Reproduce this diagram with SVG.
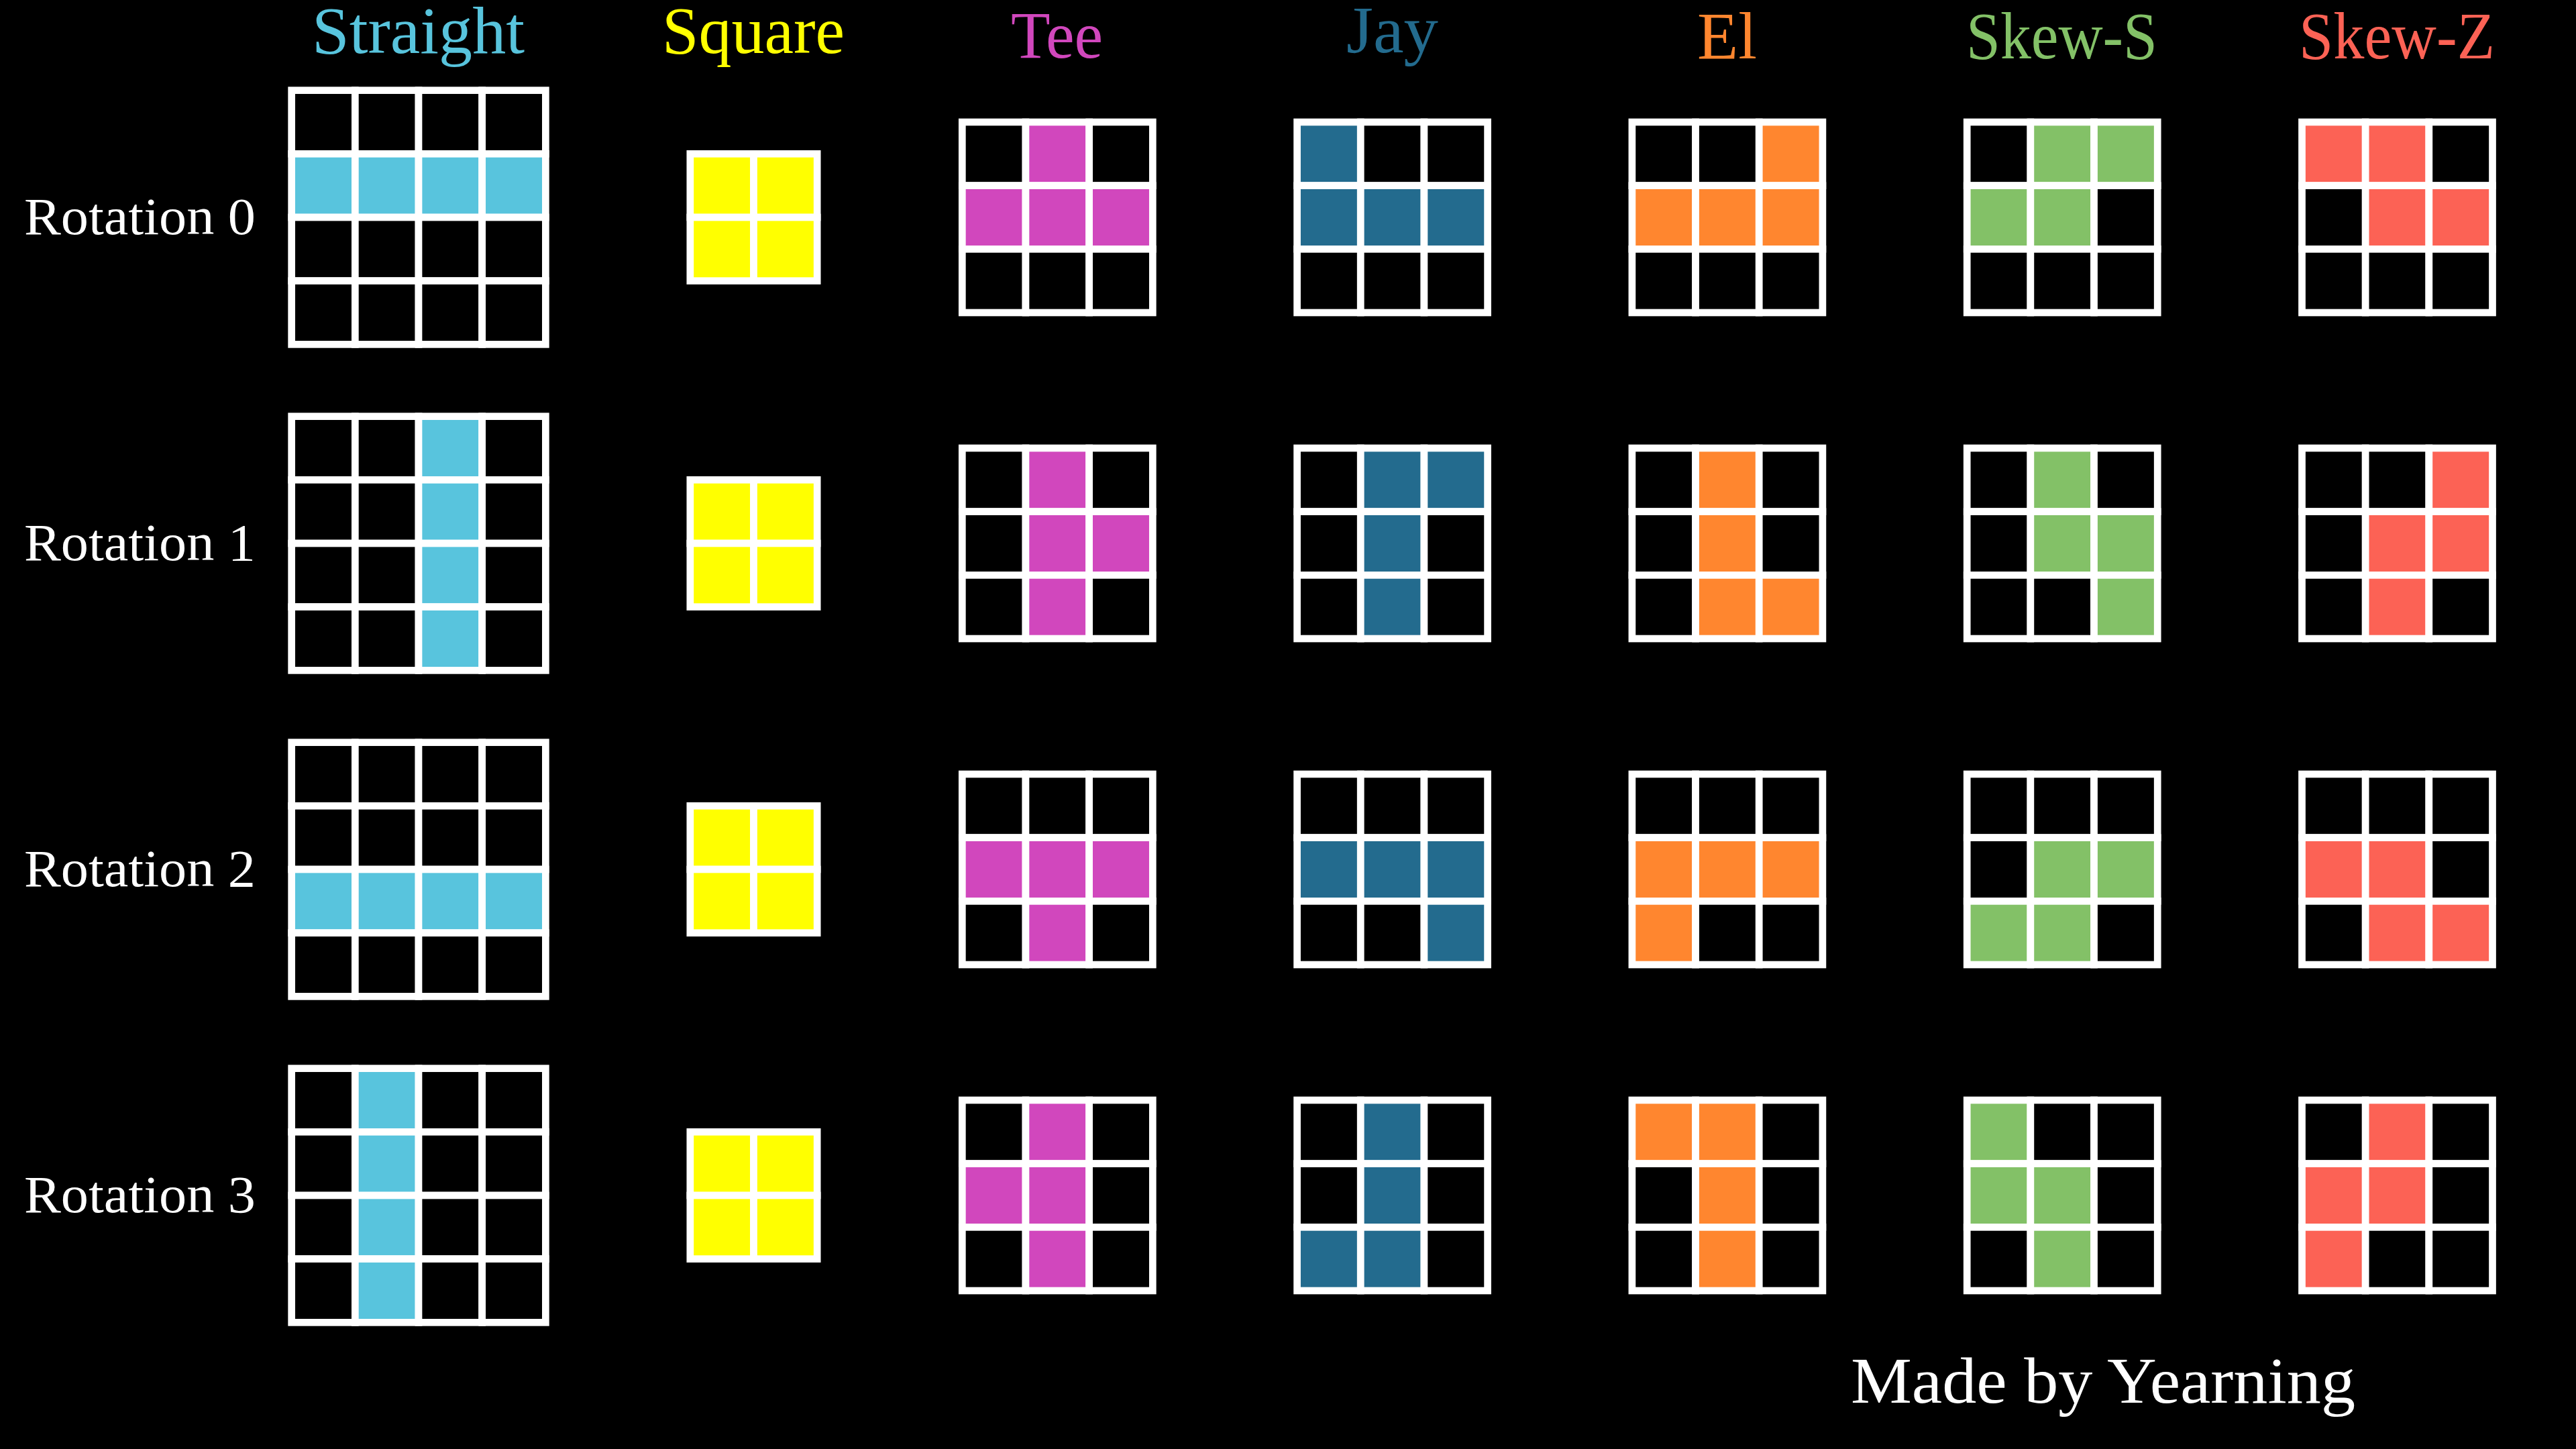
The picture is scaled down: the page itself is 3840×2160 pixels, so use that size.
<svg xmlns="http://www.w3.org/2000/svg" xmlns:xlink="http://www.w3.org/1999/xlink" width="3840" height="2160" viewBox="0 0 3840 2160">
<style>
.bg{fill:#000}
.grid use{fill:#000;stroke:#fff;stroke-width:0.113}
.I use.f{fill:#58C4DD}
.O use.f{fill:#FFFF00}
.T use.f{fill:#D147BD}
.J use.f{fill:#236B8E}
.L use.f{fill:#FF862F}
.S use.f{fill:#83C167}
.Z use.f{fill:#FC6255}
text{font-family:"Liberation Serif","DejaVu Serif",serif}
.title{font-size:100px}
.rot{font-size:78px;fill:#fff}
.credit{font-size:97px;fill:#fff}
</style>
<defs><rect id="u" width="1" height="1"/></defs>
<rect class="bg" x="0" y="0" width="3840" height="2160"/>

<g id="titles">
<text class="title" x="465" y="79" textLength="317" lengthAdjust="spacingAndGlyphs" fill="#58C4DD">Straight</text>
<text class="title" x="987" y="79" textLength="272" lengthAdjust="spacingAndGlyphs" fill="#FFFF00">Square</text>
<text class="title" x="1507" y="86" textLength="137" lengthAdjust="spacingAndGlyphs" fill="#D147BD">Tee</text>
<text class="title" x="2007" y="78" textLength="137" lengthAdjust="spacingAndGlyphs" fill="#236B8E">Jay</text>
<text class="title" x="2530" y="87" textLength="89" lengthAdjust="spacingAndGlyphs" fill="#FF862F">El</text>
<text class="title" x="2931" y="87" textLength="285" lengthAdjust="spacingAndGlyphs" fill="#83C167">Skew-S</text>
<text class="title" x="3427" y="87" textLength="292" lengthAdjust="spacingAndGlyphs" fill="#FC6255">Skew-Z</text>
</g>

<g id="row-labels">
<text class="rot" x="36" y="349" textLength="345" lengthAdjust="spacingAndGlyphs">Rotation 0</text>
<text class="rot" x="36" y="835" textLength="345" lengthAdjust="spacingAndGlyphs">Rotation 1</text>
<text class="rot" x="36" y="1321" textLength="345" lengthAdjust="spacingAndGlyphs">Rotation 2</text>
<text class="rot" x="36" y="1807" textLength="345" lengthAdjust="spacingAndGlyphs">Rotation 3</text>
</g>

<!-- Straight -->
<g id="straight-r0" class="grid I" transform="translate(434.67,134.67) scale(94.67)">
<use href="#u" x="0" y="0"/><use href="#u" x="1" y="0"/><use href="#u" x="2" y="0"/><use href="#u" x="3" y="0"/>
<use href="#u" class="f" x="0" y="1"/><use href="#u" class="f" x="1" y="1"/><use href="#u" class="f" x="2" y="1"/><use href="#u" class="f" x="3" y="1"/>
<use href="#u" x="0" y="2"/><use href="#u" x="1" y="2"/><use href="#u" x="2" y="2"/><use href="#u" x="3" y="2"/>
<use href="#u" x="0" y="3"/><use href="#u" x="1" y="3"/><use href="#u" x="2" y="3"/><use href="#u" x="3" y="3"/>
</g>
<g id="straight-r1" class="grid I" transform="translate(434.67,620.67) scale(94.67)">
<use href="#u" x="0" y="0"/><use href="#u" x="1" y="0"/><use href="#u" class="f" x="2" y="0"/><use href="#u" x="3" y="0"/>
<use href="#u" x="0" y="1"/><use href="#u" x="1" y="1"/><use href="#u" class="f" x="2" y="1"/><use href="#u" x="3" y="1"/>
<use href="#u" x="0" y="2"/><use href="#u" x="1" y="2"/><use href="#u" class="f" x="2" y="2"/><use href="#u" x="3" y="2"/>
<use href="#u" x="0" y="3"/><use href="#u" x="1" y="3"/><use href="#u" class="f" x="2" y="3"/><use href="#u" x="3" y="3"/>
</g>
<g id="straight-r2" class="grid I" transform="translate(434.67,1106.67) scale(94.67)">
<use href="#u" x="0" y="0"/><use href="#u" x="1" y="0"/><use href="#u" x="2" y="0"/><use href="#u" x="3" y="0"/>
<use href="#u" x="0" y="1"/><use href="#u" x="1" y="1"/><use href="#u" x="2" y="1"/><use href="#u" x="3" y="1"/>
<use href="#u" class="f" x="0" y="2"/><use href="#u" class="f" x="1" y="2"/><use href="#u" class="f" x="2" y="2"/><use href="#u" class="f" x="3" y="2"/>
<use href="#u" x="0" y="3"/><use href="#u" x="1" y="3"/><use href="#u" x="2" y="3"/><use href="#u" x="3" y="3"/>
</g>
<g id="straight-r3" class="grid I" transform="translate(434.67,1592.67) scale(94.67)">
<use href="#u" x="0" y="0"/><use href="#u" class="f" x="1" y="0"/><use href="#u" x="2" y="0"/><use href="#u" x="3" y="0"/>
<use href="#u" x="0" y="1"/><use href="#u" class="f" x="1" y="1"/><use href="#u" x="2" y="1"/><use href="#u" x="3" y="1"/>
<use href="#u" x="0" y="2"/><use href="#u" class="f" x="1" y="2"/><use href="#u" x="2" y="2"/><use href="#u" x="3" y="2"/>
<use href="#u" x="0" y="3"/><use href="#u" class="f" x="1" y="3"/><use href="#u" x="2" y="3"/><use href="#u" x="3" y="3"/>
</g>

<!-- Square -->
<g id="square-r0" class="grid O" transform="translate(1028.83,229.33) scale(94.67)">
<use href="#u" class="f" x="0" y="0"/><use href="#u" class="f" x="1" y="0"/><use href="#u" class="f" x="0" y="1"/><use href="#u" class="f" x="1" y="1"/>
</g>
<g id="square-r1" class="grid O" transform="translate(1028.83,715.33) scale(94.67)">
<use href="#u" class="f" x="0" y="0"/><use href="#u" class="f" x="1" y="0"/><use href="#u" class="f" x="0" y="1"/><use href="#u" class="f" x="1" y="1"/>
</g>
<g id="square-r2" class="grid O" transform="translate(1028.83,1201.33) scale(94.67)">
<use href="#u" class="f" x="0" y="0"/><use href="#u" class="f" x="1" y="0"/><use href="#u" class="f" x="0" y="1"/><use href="#u" class="f" x="1" y="1"/>
</g>
<g id="square-r3" class="grid O" transform="translate(1028.83,1687.33) scale(94.67)">
<use href="#u" class="f" x="0" y="0"/><use href="#u" class="f" x="1" y="0"/><use href="#u" class="f" x="0" y="1"/><use href="#u" class="f" x="1" y="1"/>
</g>

<!-- Tee -->
<g id="tee-r0" class="grid T" transform="translate(1434.3,182) scale(94.67)">
<use href="#u" x="0" y="0"/><use href="#u" class="f" x="1" y="0"/><use href="#u" x="2" y="0"/>
<use href="#u" class="f" x="0" y="1"/><use href="#u" class="f" x="1" y="1"/><use href="#u" class="f" x="2" y="1"/>
<use href="#u" x="0" y="2"/><use href="#u" x="1" y="2"/><use href="#u" x="2" y="2"/>
</g>
<g id="tee-r1" class="grid T" transform="translate(1434.3,668) scale(94.67)">
<use href="#u" x="0" y="0"/><use href="#u" class="f" x="1" y="0"/><use href="#u" x="2" y="0"/>
<use href="#u" x="0" y="1"/><use href="#u" class="f" x="1" y="1"/><use href="#u" class="f" x="2" y="1"/>
<use href="#u" x="0" y="2"/><use href="#u" class="f" x="1" y="2"/><use href="#u" x="2" y="2"/>
</g>
<g id="tee-r2" class="grid T" transform="translate(1434.3,1154) scale(94.67)">
<use href="#u" x="0" y="0"/><use href="#u" x="1" y="0"/><use href="#u" x="2" y="0"/>
<use href="#u" class="f" x="0" y="1"/><use href="#u" class="f" x="1" y="1"/><use href="#u" class="f" x="2" y="1"/>
<use href="#u" x="0" y="2"/><use href="#u" class="f" x="1" y="2"/><use href="#u" x="2" y="2"/>
</g>
<g id="tee-r3" class="grid T" transform="translate(1434.3,1640) scale(94.67)">
<use href="#u" x="0" y="0"/><use href="#u" class="f" x="1" y="0"/><use href="#u" x="2" y="0"/>
<use href="#u" class="f" x="0" y="1"/><use href="#u" class="f" x="1" y="1"/><use href="#u" x="2" y="1"/>
<use href="#u" x="0" y="2"/><use href="#u" class="f" x="1" y="2"/><use href="#u" x="2" y="2"/>
</g>

<!-- Jay -->
<g id="jay-r0" class="grid J" transform="translate(1933.6,182) scale(94.67)">
<use href="#u" class="f" x="0" y="0"/><use href="#u" x="1" y="0"/><use href="#u" x="2" y="0"/>
<use href="#u" class="f" x="0" y="1"/><use href="#u" class="f" x="1" y="1"/><use href="#u" class="f" x="2" y="1"/>
<use href="#u" x="0" y="2"/><use href="#u" x="1" y="2"/><use href="#u" x="2" y="2"/>
</g>
<g id="jay-r1" class="grid J" transform="translate(1933.6,668) scale(94.67)">
<use href="#u" x="0" y="0"/><use href="#u" class="f" x="1" y="0"/><use href="#u" class="f" x="2" y="0"/>
<use href="#u" x="0" y="1"/><use href="#u" class="f" x="1" y="1"/><use href="#u" x="2" y="1"/>
<use href="#u" x="0" y="2"/><use href="#u" class="f" x="1" y="2"/><use href="#u" x="2" y="2"/>
</g>
<g id="jay-r2" class="grid J" transform="translate(1933.6,1154) scale(94.67)">
<use href="#u" x="0" y="0"/><use href="#u" x="1" y="0"/><use href="#u" x="2" y="0"/>
<use href="#u" class="f" x="0" y="1"/><use href="#u" class="f" x="1" y="1"/><use href="#u" class="f" x="2" y="1"/>
<use href="#u" x="0" y="2"/><use href="#u" x="1" y="2"/><use href="#u" class="f" x="2" y="2"/>
</g>
<g id="jay-r3" class="grid J" transform="translate(1933.6,1640) scale(94.67)">
<use href="#u" x="0" y="0"/><use href="#u" class="f" x="1" y="0"/><use href="#u" x="2" y="0"/>
<use href="#u" x="0" y="1"/><use href="#u" class="f" x="1" y="1"/><use href="#u" x="2" y="1"/>
<use href="#u" class="f" x="0" y="2"/><use href="#u" class="f" x="1" y="2"/><use href="#u" x="2" y="2"/>
</g>

<!-- El -->
<g id="el-r0" class="grid L" transform="translate(2432.9,182) scale(94.67)">
<use href="#u" x="0" y="0"/><use href="#u" x="1" y="0"/><use href="#u" class="f" x="2" y="0"/>
<use href="#u" class="f" x="0" y="1"/><use href="#u" class="f" x="1" y="1"/><use href="#u" class="f" x="2" y="1"/>
<use href="#u" x="0" y="2"/><use href="#u" x="1" y="2"/><use href="#u" x="2" y="2"/>
</g>
<g id="el-r1" class="grid L" transform="translate(2432.9,668) scale(94.67)">
<use href="#u" x="0" y="0"/><use href="#u" class="f" x="1" y="0"/><use href="#u" x="2" y="0"/>
<use href="#u" x="0" y="1"/><use href="#u" class="f" x="1" y="1"/><use href="#u" x="2" y="1"/>
<use href="#u" x="0" y="2"/><use href="#u" class="f" x="1" y="2"/><use href="#u" class="f" x="2" y="2"/>
</g>
<g id="el-r2" class="grid L" transform="translate(2432.9,1154) scale(94.67)">
<use href="#u" x="0" y="0"/><use href="#u" x="1" y="0"/><use href="#u" x="2" y="0"/>
<use href="#u" class="f" x="0" y="1"/><use href="#u" class="f" x="1" y="1"/><use href="#u" class="f" x="2" y="1"/>
<use href="#u" class="f" x="0" y="2"/><use href="#u" x="1" y="2"/><use href="#u" x="2" y="2"/>
</g>
<g id="el-r3" class="grid L" transform="translate(2432.9,1640) scale(94.67)">
<use href="#u" class="f" x="0" y="0"/><use href="#u" class="f" x="1" y="0"/><use href="#u" x="2" y="0"/>
<use href="#u" x="0" y="1"/><use href="#u" class="f" x="1" y="1"/><use href="#u" x="2" y="1"/>
<use href="#u" x="0" y="2"/><use href="#u" class="f" x="1" y="2"/><use href="#u" x="2" y="2"/>
</g>

<!-- Skew-S -->
<g id="skews-r0" class="grid S" transform="translate(2932.2,182) scale(94.67)">
<use href="#u" x="0" y="0"/><use href="#u" class="f" x="1" y="0"/><use href="#u" class="f" x="2" y="0"/>
<use href="#u" class="f" x="0" y="1"/><use href="#u" class="f" x="1" y="1"/><use href="#u" x="2" y="1"/>
<use href="#u" x="0" y="2"/><use href="#u" x="1" y="2"/><use href="#u" x="2" y="2"/>
</g>
<g id="skews-r1" class="grid S" transform="translate(2932.2,668) scale(94.67)">
<use href="#u" x="0" y="0"/><use href="#u" class="f" x="1" y="0"/><use href="#u" x="2" y="0"/>
<use href="#u" x="0" y="1"/><use href="#u" class="f" x="1" y="1"/><use href="#u" class="f" x="2" y="1"/>
<use href="#u" x="0" y="2"/><use href="#u" x="1" y="2"/><use href="#u" class="f" x="2" y="2"/>
</g>
<g id="skews-r2" class="grid S" transform="translate(2932.2,1154) scale(94.67)">
<use href="#u" x="0" y="0"/><use href="#u" x="1" y="0"/><use href="#u" x="2" y="0"/>
<use href="#u" x="0" y="1"/><use href="#u" class="f" x="1" y="1"/><use href="#u" class="f" x="2" y="1"/>
<use href="#u" class="f" x="0" y="2"/><use href="#u" class="f" x="1" y="2"/><use href="#u" x="2" y="2"/>
</g>
<g id="skews-r3" class="grid S" transform="translate(2932.2,1640) scale(94.67)">
<use href="#u" class="f" x="0" y="0"/><use href="#u" x="1" y="0"/><use href="#u" x="2" y="0"/>
<use href="#u" class="f" x="0" y="1"/><use href="#u" class="f" x="1" y="1"/><use href="#u" x="2" y="1"/>
<use href="#u" x="0" y="2"/><use href="#u" class="f" x="1" y="2"/><use href="#u" x="2" y="2"/>
</g>

<!-- Skew-Z -->
<g id="skewz-r0" class="grid Z" transform="translate(3431.5,182) scale(94.67)">
<use href="#u" class="f" x="0" y="0"/><use href="#u" class="f" x="1" y="0"/><use href="#u" x="2" y="0"/>
<use href="#u" x="0" y="1"/><use href="#u" class="f" x="1" y="1"/><use href="#u" class="f" x="2" y="1"/>
<use href="#u" x="0" y="2"/><use href="#u" x="1" y="2"/><use href="#u" x="2" y="2"/>
</g>
<g id="skewz-r1" class="grid Z" transform="translate(3431.5,668) scale(94.67)">
<use href="#u" x="0" y="0"/><use href="#u" x="1" y="0"/><use href="#u" class="f" x="2" y="0"/>
<use href="#u" x="0" y="1"/><use href="#u" class="f" x="1" y="1"/><use href="#u" class="f" x="2" y="1"/>
<use href="#u" x="0" y="2"/><use href="#u" class="f" x="1" y="2"/><use href="#u" x="2" y="2"/>
</g>
<g id="skewz-r2" class="grid Z" transform="translate(3431.5,1154) scale(94.67)">
<use href="#u" x="0" y="0"/><use href="#u" x="1" y="0"/><use href="#u" x="2" y="0"/>
<use href="#u" class="f" x="0" y="1"/><use href="#u" class="f" x="1" y="1"/><use href="#u" x="2" y="1"/>
<use href="#u" x="0" y="2"/><use href="#u" class="f" x="1" y="2"/><use href="#u" class="f" x="2" y="2"/>
</g>
<g id="skewz-r3" class="grid Z" transform="translate(3431.5,1640) scale(94.67)">
<use href="#u" x="0" y="0"/><use href="#u" class="f" x="1" y="0"/><use href="#u" x="2" y="0"/>
<use href="#u" class="f" x="0" y="1"/><use href="#u" class="f" x="1" y="1"/><use href="#u" x="2" y="1"/>
<use href="#u" class="f" x="0" y="2"/><use href="#u" x="1" y="2"/><use href="#u" x="2" y="2"/>
</g>

<g id="connectors"/>

<text id="credit" class="credit" x="2759" y="2091" textLength="752" lengthAdjust="spacingAndGlyphs">Made by Yearning</text>
</svg>
